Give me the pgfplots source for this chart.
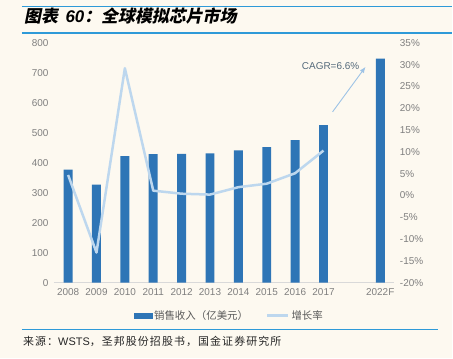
\documentclass[border=0pt]{standalone}
\usepackage{pgfplots}
\pgfplotsset{compat=1.18}
\usetikzlibrary{arrows.meta}
\usepackage{fontspec}
\setmainfont{Liberation Sans}
\newfontfamily\cjk{Noto Sans CJK SC}
\newfontfamily\cjksrc{Noto Sans CJK SC}[LetterSpace=10]
\newfontfamily\cjkti{Noto Sans CJK SC}[FakeSlant=0.2]
\definecolor{cream}{HTML}{FDF9F0}
\definecolor{titleblue}{HTML}{2E9AD8}
\definecolor{barblue}{HTML}{2E75B6}
\definecolor{lineblue}{HTML}{BDD7EE}
\definecolor{tickgray}{HTML}{7F7F7F}
\definecolor{leggray}{HTML}{595959}
\definecolor{axisgray}{HTML}{D9D9D9}
\definecolor{cagr}{HTML}{546A7B}
\definecolor{arrowc}{HTML}{9DC3E6}
\begin{document}
\begin{tikzpicture}[x=1bp,y=1bp]
\fill[cream] (0,0) rectangle (453,359);
\draw[titleblue,line width=1.3bp] (22,352.5) -- (453,352.5);
\draw[titleblue,line width=1.3bp] (22,326) -- (453,326);
\node[anchor=base west,inner sep=0] at (24,336) {\fontsize{17}{19}\selectfont\cjkti\bfseries 图表\,{\fontspec{Liberation Sans}\bfseries\itshape\ 60}：全球模拟芯片市场};
\draw[titleblue,line width=1.1bp] (22,29.3) -- (439,29.3);
\node[anchor=base west,inner sep=0,text=black!85] at (23,13) {\fontsize{11}{12}\selectfont\cjksrc 来源：{\rmfamily WSTS}，圣邦股份招股书，国金证券研究所};

\begin{axis}[
  at={(54bp,76bp)}, anchor=south west, scale only axis,
  width=341bp, height=240bp,
  xmin=-0.5, xmax=11.5, ymin=0, ymax=800,
  axis x line*=bottom, axis y line*=left,
  x axis line style={draw=axisgray, line width=1bp, -},
  y axis line style={draw=none},
  xtick={0,1,2,3,4,5,6,7,8,9,11},
  xticklabels={2008,2009,2010,2011,2012,2013,2014,2015,2016,2017,2022F},
  ytick={0,100,...,800},
  major tick length=0pt,
  tick style={draw=none},
  /pgf/number format/assume math mode=true,
  ticklabel style={font=\fontsize{10}{12}\selectfont, text=tickgray},
  xticklabel style={yshift=-2bp},
  yticklabel style={xshift=-2bp},
  clip=false,
  legend style={at={(0.515,-0.1375)}, anchor=center, draw=none, fill=none,
    legend columns=2, font=\cjk\fontsize{10.5}{12}\selectfont, text=leggray,
    /tikz/every even column/.append style={column sep=16bp}},
]
\addplot[ybar, bar width=9bp, fill=barblue, draw=none, forget plot] coordinates {
(0,377) (1,327) (2,422) (3,429) (4,430) (5,431) (6,441) (7,452) (8,476) (9,526) (11,748)};
\addlegendimage{legend image code/.code={\fill[barblue] (0bp,-2.5bp) rectangle (18bp,2.5bp);}}
\addlegendentry{销售收入（亿美元）}
\addlegendimage{legend image code/.code={\draw[lineblue,line width=2.5bp] (0bp,0bp) -- (21bp,0bp);}}
\addlegendentry{增长率}
\draw[arrowc, line width=0.9bp, -{Latex[length=6bp,width=5bp]}] (axis cs:9.32,570) -- (axis cs:10.48,720);
\node[text=cagr, font=\fontsize{10}{12}\selectfont] at (axis cs:9.25,723) {CAGR=6.6\%};
\end{axis}

\begin{axis}[
  at={(54bp,76bp)}, anchor=south west, scale only axis,
  width=341bp, height=240bp,
  xmin=-0.5, xmax=11.5, ymin=-20, ymax=35,
  axis x line=none, axis y line*=right,
  y axis line style={draw=none},
  ytick={-20,-15,...,35},
  yticklabel={\pgfmathprintnumber{\tick}\%},
  major tick length=0pt,
  tick style={draw=none},
  /pgf/number format/assume math mode=true,
  ticklabel style={font=\fontsize{10}{12}\selectfont, text=tickgray},
  yticklabel style={xshift=2bp},
]
\addplot[lineblue, line width=2.5bp, line join=round] coordinates {
(0,4.7) (1,-13.1) (2,29.2) (3,1.1) (4,0.4) (5,0.2) (6,1.9) (7,2.7) (8,5.1) (9,10.3)};
\end{axis}
\end{tikzpicture}
\end{document}
